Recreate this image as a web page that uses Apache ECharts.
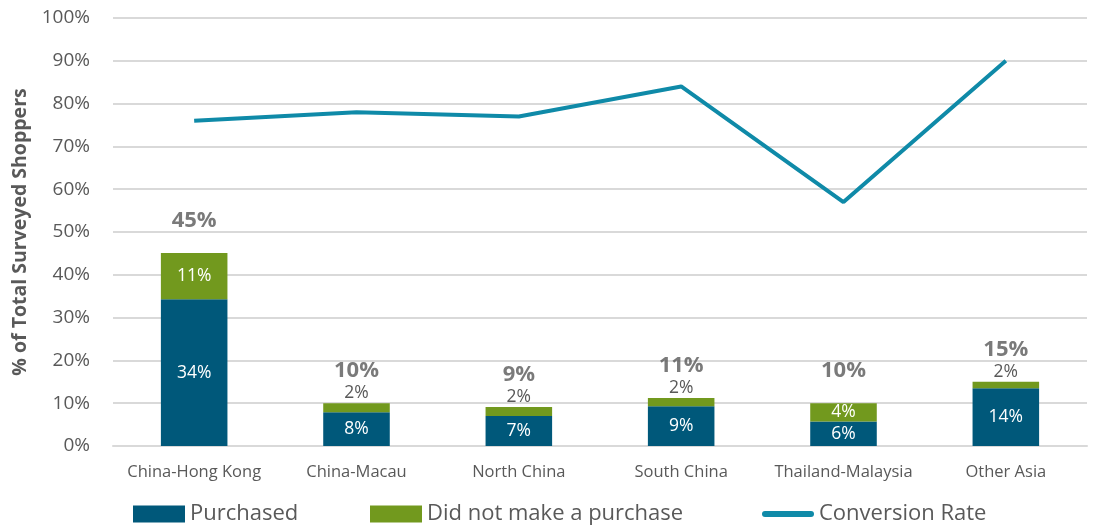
<!DOCTYPE html>
<html><head><meta charset="utf-8">
<script src="https://cdn.jsdelivr.net/npm/echarts@6/dist/echarts.min.js"></script>
<style>html,body{margin:0;padding:0;background:#fff}#c{width:1096px;height:527px}</style>
</head><body><div id="c"></div>
<script>
const categories = ['China-Hong Kong','China-Macau','North China','South China','Thailand-Malaysia','Other Asia'];
const purchased = [34.3, 7.9, 7.0, 9.3, 5.7, 13.5];
const notPurchased = [10.8, 2.1, 2.1, 1.9, 4.3, 1.5];
const conversion = [76, 78, 77, 84, 57, 90];
const totals = purchased.map((v,i)=>+(v+notPurchased[i]).toFixed(1));

const FONT = '"Open Sans", "Noto Sans", sans-serif';
const GRAY = '#595959';
const legendBase = {top:503,padding:0,itemWidth:52,itemHeight:17,textStyle:{fontFamily:FONT,fontSize:22,color:GRAY}};
const chart = echarts.init(document.getElementById('c'));
chart.setOption({
  animation:false,
  grid:{left:113,right:9,top:18,bottom:81},
  legend:[
    Object.assign({left:133,data:[{name:'Purchased',icon:'rect'}]},legendBase),
    Object.assign({left:370,data:[{name:'Did not make a purchase',icon:'rect'}]},legendBase),
    Object.assign({left:762,data:[{name:'Conversion Rate',icon:'path://M3,0 L49,0 A3,3 0 0 1 49,6 L3,6 A3,3 0 0 1 3,0 Z'}]},legendBase)
  ],
  xAxis:{type:'category',data:categories,
    axisLine:{lineStyle:{color:'#d9d9d9',width:2}},axisTick:{show:false},
    axisLabel:{interval:0,fontFamily:FONT,fontSize:16.5,color:GRAY,margin:18}},
  yAxis:{type:'value',min:0,max:100,interval:10,
    name:'% of Total Surveyed Shoppers',nameLocation:'middle',nameGap:80,
    nameTextStyle:{fontFamily:FONT,fontSize:19.5,fontWeight:'bold',color:GRAY},
    axisLabel:{formatter:'{value}%',fontFamily:FONT,fontSize:19,color:GRAY,margin:23},
    splitLine:{lineStyle:{color:'#d9d9d9',width:2}}},
  series:[
    {name:'Purchased',type:'bar',stack:'s',barWidth:'41%',data:purchased,
     itemStyle:{color:'#00587A'},
     label:{show:true,position:'inside',color:'#fff',fontFamily:FONT,fontSize:17.5,
       formatter:p=>Math.round(p.value)+'%'}},
    {name:'Did not make a purchase',type:'bar',stack:'s',data:notPurchased.map(v=>({
       value:v,
       label: v>=3 ? {position:'inside',color:'#fff'} : {position:'top',color:GRAY,distance:1}
     })),
     itemStyle:{color:'#72991E'},
     label:{show:true,fontFamily:FONT,fontSize:17.5,formatter:p=>Math.round(p.value)+'%'}},
    {name:'Total',type:'scatter',data:totals,symbolSize:0,silent:true,
     label:{show:true,position:'top',distance:21,fontFamily:FONT,fontSize:22,fontWeight:'bold',color:GRAY,
       formatter:p=>Math.round(p.value)+'%'}},
    {name:'Conversion Rate',type:'line',data:conversion,symbol:'none',
     lineStyle:{color:'#0F8AA8',width:4},itemStyle:{color:'#0F8AA8'}}
  ]
});
</script></body></html>
